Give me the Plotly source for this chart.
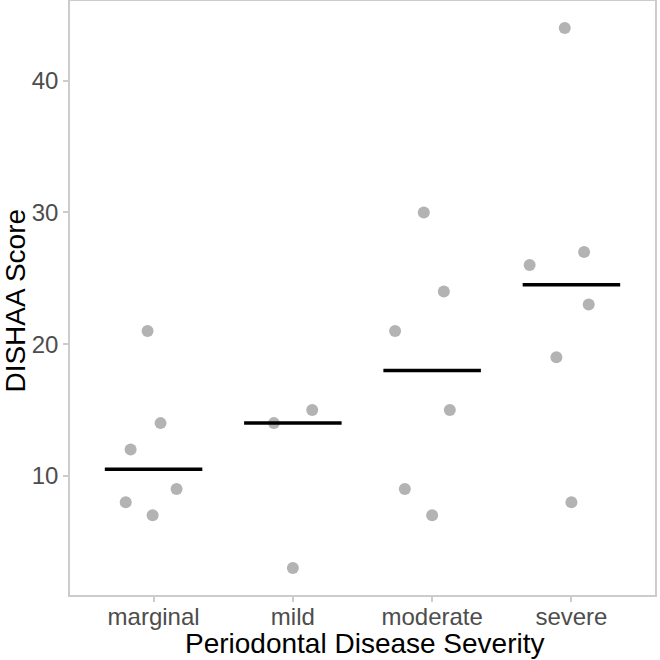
import numpy as np
import plotly.graph_objects as go

categories = ["marginal", "mild", "moderate", "severe"]

# DISHAA scores per severity group
scores = {
    "marginal": [21, 14, 12, 8, 7, 9],
    "mild": [14, 15, 3],
    "moderate": [30, 24, 21, 15, 9, 7],
    "severe": [44, 27, 26, 23, 19, 8],
}
# horizontal jitter of each point, in category units
jitter = {
    "marginal": [-0.043, 0.05, -0.165, -0.2, -0.007, 0.165],
    "mild": [-0.136, 0.139, 0.0],
    "moderate": [-0.06, 0.084, -0.266, 0.127, -0.196, 0.0],
    "severe": [-0.048, 0.091, -0.3, 0.124, -0.108, 0.0],
}
y_ticks = [10, 20, 30, 40]
x_title = "Periodontal Disease Severity"
y_title = "DISHAA Score"

fig = go.Figure()
for i, cat in enumerate(categories):
    xs = [i + j for j in jitter[cat]]
    fig.add_trace(go.Scatter(
        x=xs, y=scores[cat], mode="markers",
        marker=dict(color="#b3b3b3", size=12, line=dict(width=0)),
        showlegend=False, hoverinfo="y"))
for i, cat in enumerate(categories):
    med = float(np.median(scores[cat]))
    fig.add_trace(go.Scatter(
        x=[i - 0.35, i + 0.35], y=[med, med], mode="lines",
        line=dict(color="black", width=3.5),
        showlegend=False, hoverinfo="skip"))

fig.update_layout(
    width=660, height=660,
    margin=dict(l=70, r=5, t=1, b=65, autoexpand=False),
    paper_bgcolor="white", plot_bgcolor="white",
    font=dict(family="Liberation Sans, Arial, sans-serif"),
    annotations=[
        dict(text=x_title, xref="paper", yref="paper", x=0.504, y=-0.082,
             xanchor="center", yanchor="middle", showarrow=False,
             font=dict(size=28, color="black")),
        dict(text=y_title, xref="paper", yref="paper", x=-0.093, y=0.495,
             xanchor="center", yanchor="middle", showarrow=False, textangle=-90,
             font=dict(size=28, color="black")),
    ],
)
fig.update_xaxes(
    range=[-0.6, 3.6], tickvals=list(range(len(categories))), ticktext=categories,
    showgrid=False, zeroline=False, automargin=False,
    showline=True, mirror=True, linecolor="#cccccc", linewidth=1.5,
    ticks="outside", ticklen=5, tickcolor="#cccccc", tickwidth=1.5,
    tickfont=dict(size=24, color="#4d4d4d"), ticklabelstandoff=-6,
)
fig.update_yaxes(
    range=[0.95, 46.05], tickvals=y_ticks,
    showgrid=False, zeroline=False, automargin=False,
    showline=True, mirror=True, linecolor="#cccccc", linewidth=1.5,
    ticks="outside", ticklen=5, tickcolor="#cccccc", tickwidth=1.5,
    tickfont=dict(size=24, color="#4d4d4d"),
)

fig.write_html("out.html", config={"displayModeBar": False},
               post_script="document.body.style.margin='0';document.body.style.overflow='hidden';")
